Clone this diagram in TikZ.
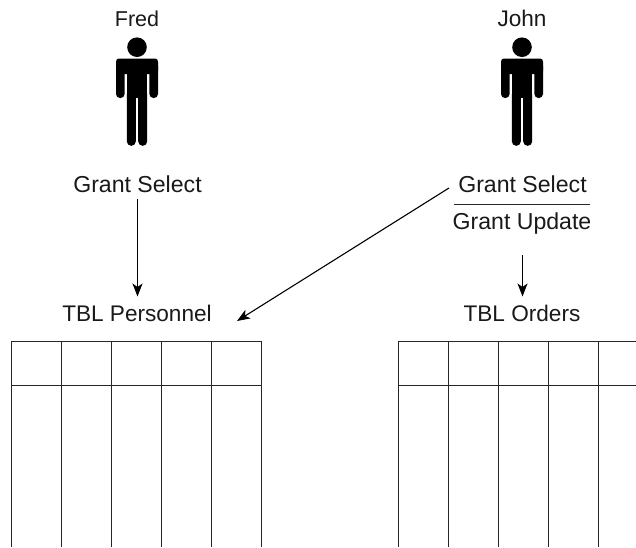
\documentclass[tikz,border=0pt]{standalone}
\usepackage{fontspec}
\setmainfont{Liberation Sans}
\usetikzlibrary{arrows.meta}
\tikzset{
  lbl/.style={inner sep=0pt,font=\fontsize{22.6}{24}\selectfont,text=black!90,anchor=base},
  grantlbl/.style={lbl,font=\fontsize{23.1}{24}\selectfont},
  namelbl/.style={lbl,font=\fontsize{21.5}{24}\selectfont},
  conn/.style={line width=1.1pt,-{Stealth[length=13pt,width=10pt,inset=3.5pt]}},
  tbl/.style={line width=1.2pt,black!85},
  person/.pic={
    \fill (0,-2.8) circle (9.8);
    % shoulders and arms
    \fill[rounded corners=3pt] (-21,8.5) rectangle (21,24);
    \fill[rounded corners=4pt] (-21,12) rectangle (-12.4,48);
    \fill[rounded corners=4pt] (12.4,12) rectangle (21,48);
    % trunk
    \fill (-10.2,10) rectangle (10.2,48);
    % legs
    \fill[rounded corners=4.4pt] (-10.2,40) rectangle (-1.2,95.8);
    \fill[rounded corners=4.4pt] (1.2,40) rectangle (10.2,95.8);
    \fill (-10.2,40) rectangle (10.2,48);
  }
}
\begin{document}
\begin{tikzpicture}[x=1pt,y=-1pt]
\useasboundingbox (0,0) rectangle (636,547);
\fill[white] (0,0) rectangle (636,547);
% people
\pic at (137,50) {person};
\pic at (522,50) {person};
\node[namelbl] (fred) at (137,26.5) {Fred};
\node[lbl] (john) at (522,26.5) {John};
% labels
\node[grantlbl] (gs1) at (137.5,192.5) {Grant Select};
\node[grantlbl] (gs2) at (522.5,192.5) {Grant Select};
\node[grantlbl] (gu) at (522,229.5) {Grant Update};
\node[lbl] (tp) at (137,321.5) {TBL Personnel};
\node[lbl] (to) at (522,321.5) {TBL Orders};
\coordinate (gs1a) at (137.5,199);
\coordinate (tpa) at (137.5,296.5);
\coordinate (gs2a) at (449,188);
\coordinate (tpb) at (237,321);
\coordinate (gua) at (522.5,255);
\coordinate (toa) at (522.5,296.5);
\coordinate (ruleL) at (454,204.5);
\coordinate (ruleR) at (590,204.5);
\draw[conn] (gs1a) -- (tpa);
\draw[conn] (gs2a) -- (tpb);
\draw[conn] (gua) -- (toa);
\draw[tbl] (ruleL) -- (ruleR);
% left table
\draw[tbl] (11.5,547) -- (11.5,341.5) -- (261.5,341.5) -- (261.5,547);
\draw[tbl] (11.5,385.5) -- (261.5,385.5);
\foreach \x in {61.5,111.5,161.5,211.5} \draw[tbl] (\x,341.5) -- (\x,547);
% right table
\draw[tbl] (398.5,547) -- (398.5,341.5) -- (636,341.5);
\draw[tbl] (398.5,385.5) -- (636,385.5);
\foreach \x in {448.5,498.5,548.5,598.5} \draw[tbl] (\x,341.5) -- (\x,547);
\end{tikzpicture}
\end{document}
